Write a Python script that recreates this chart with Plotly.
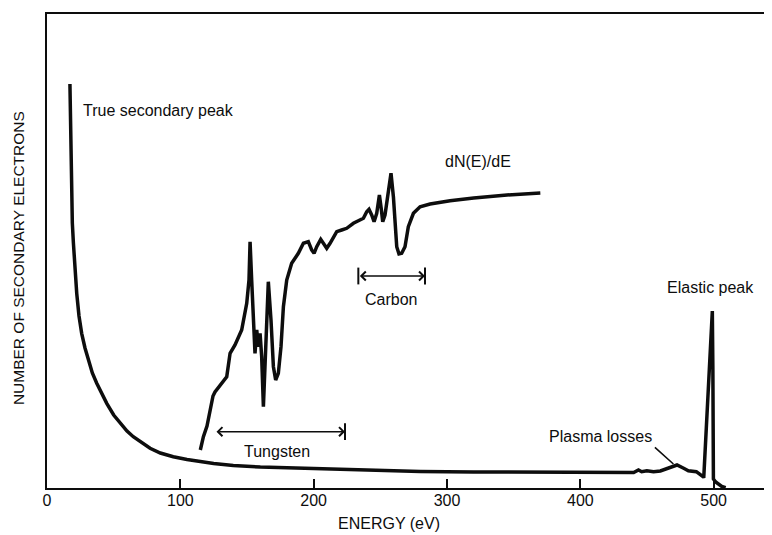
import plotly.graph_objects as go

# ---- Data ----
# Energy distribution N(E) of secondary electrons (arbitrary units)
ne_energy = [17.2, 17.6, 18.2, 19.0, 19.8, 21.0, 22.3, 24.0, 26.0, 28.5, 31.0, 34.0,
             37.3, 41.0, 44.8, 50.0, 54.8, 60.0, 64.7, 71.0, 77.3, 85.0, 94.7, 105.0,
             114.8, 125.0, 139.7, 160.0, 200.0, 240.0, 280.0, 320.0, 360.0, 400.0,
             436.0, 440.0, 443.6, 446.0, 449.9, 454.9, 460.0, 465.0, 469.0, 472.5,
             477.5, 481.0, 487.0, 490.0, 492.0, 492.6, 499.0, 499.4, 499.8, 501.5,
             503.6, 506.1, 509.0]
ne_counts = [404.0, 370.0, 295.0, 265.0, 245.0, 218.0, 194.7, 172.0, 154.7, 140.0, 128.0, 115.0,
             104.7, 94.0, 84.7, 73.0, 64.7, 57.0, 51.3, 45.0, 39.7, 35.0, 31.3, 28.5,
             26.3, 24.5, 22.5, 21.0, 19.5, 18.0, 16.5, 16.0, 15.6, 15.4,
             15.3, 15.5, 18.0, 16.3, 17.3, 16.3, 17.0, 19.7, 21.5, 23.0,
             19.7, 17.3, 16.3, 13.0, 11.3, 11.5, 177.0, 120.0, 9.0, 6.0,
             4.0, 1.5, 0.3]

# Derivative spectrum dN(E)/dE (arbitrary units, offset)
dn_energy = [115.0, 117.3, 120.0, 122.3, 124.5, 126.0, 129.8, 134.8, 137.3, 141.0, 146.0,
             149.8, 151.5, 152.3, 153.5, 155.5, 156.0, 157.3, 158.5, 159.8, 161.0, 162.3,
             164.0, 166.0, 168.0, 169.8, 171.5, 173.5, 175.5, 177.3, 179.8, 183.5, 188.5,
             192.3, 196.0, 198.5, 200.3, 202.3, 205.3, 207.3, 209.8, 212.3, 217.3, 221.0,
             224.8, 229.8, 234.8, 237.3, 239.8, 241.5, 243.5, 245.3, 247.3, 249.3, 250.8,
             251.8, 253.5, 255.3, 258.0, 259.8, 261.0, 262.3, 264.0, 266.0, 268.5, 271.0,
             274.8, 279.8, 287.3, 302.3, 320.0, 345.0, 370.0]
dn_values = [38.0, 51.3, 62.0, 78.0, 92.0, 96.0, 103.0, 111.3, 134.7, 143.0, 158.0,
             184.7, 208.0, 246.3, 208.0, 158.0, 134.7, 158.0, 141.3, 154.7, 131.3, 81.3,
             134.7, 206.3, 168.0, 121.3, 108.0, 114.7, 141.3, 181.3, 208.0, 224.7, 234.7,
             244.7, 246.3, 238.0, 234.7, 241.3, 248.7, 244.7, 239.7, 244.7, 256.3, 258.0,
             259.7, 264.7, 268.0, 269.7, 276.3, 278.7, 273.0, 266.3, 274.7, 293.0, 278.0,
             266.3, 273.0, 288.0, 314.7, 291.3, 264.7, 241.3, 234.0, 234.7, 241.3, 261.3,
             274.7, 281.3, 284.0, 287.3, 290.0, 293.0, 295.0]

x_ticks = [0, 100, 200, 300, 400, 500]
x_tick_labels = ["0", "100", "200", "300", "400", "500"]

# Energy ranges marked with arrows
tungsten_range = [126.0, 223.5]
tungsten_level = 56.3
carbon_range = [233.5, 283.5]
carbon_level = 212.0

# Text labels: (text, energy, level)
label_texts = ["True secondary peak", "dN(E)/dE", "Carbon", "Tungsten", "Elastic peak", "Plasma losses"]
label_x = [83.5, 323.5, 257.8, 172.3, 497.8, 414.8]
label_y = [378.0, 326.3, 189.0, 36.3, 201.0, 51.3]

# Leader line for plasma losses (from, to)
plasma_leader_x = [454.8, 469.8]
plasma_leader_y = [42.0, 24.0]

FONT = "Liberation Sans, Arial, sans-serif"
INK = "#0d0d0d"

fig = go.Figure()

fig.add_trace(go.Scatter(x=ne_energy, y=ne_counts, mode="lines",
                         line=dict(color=INK, width=3.5), hoverinfo="skip", showlegend=False))
fig.add_trace(go.Scatter(x=dn_energy, y=dn_values, mode="lines",
                         line=dict(color=INK, width=3.5), hoverinfo="skip", showlegend=False))

# end bars of the range arrows
bar_x = [tungsten_range[1], carbon_range[0], carbon_range[1]]
bar_y = [tungsten_level, carbon_level, carbon_level]
fig.add_trace(go.Scatter(x=bar_x, y=bar_y, mode="markers",
                         marker=dict(symbol="line-ns", size=12, line=dict(color=INK, width=2)),
                         hoverinfo="skip", showlegend=False))

annotations = []
for rng, lvl in [(tungsten_range, tungsten_level), (carbon_range, carbon_level)]:
    annotations.append(dict(x=rng[1], y=lvl, ax=rng[0], ay=lvl, xref="x", yref="y",
                            axref="x", ayref="y", text="", showarrow=True,
                            arrowside="end+start", arrowhead=4, arrowsize=1.1,
                            arrowwidth=1.6, arrowcolor=INK))

annotations.append(dict(x=plasma_leader_x[1], y=plasma_leader_y[1],
                        ax=plasma_leader_x[0], ay=plasma_leader_y[0],
                        xref="x", yref="y", axref="x", ayref="y", text="",
                        showarrow=True, arrowhead=0, arrowwidth=1.6, arrowcolor=INK))

for t, lx, ly in zip(label_texts, label_x, label_y):
    annotations.append(dict(x=lx, y=ly, xref="x", yref="y", text=t, showarrow=False,
                            font=dict(family=FONT, size=16, color=INK),
                            xanchor="center", yanchor="middle"))

# axis titles
annotations.append(dict(x=0.472, y=-0.074, xref="paper", yref="paper", text="ENERGY (eV)",
                        showarrow=False, xanchor="center", yanchor="middle",
                        font=dict(family=FONT, size=16, color=INK)))
annotations.append(dict(x=-0.040, y=0.485, xref="paper", yref="paper",
                        text="NUMBER OF SECONDARY ELECTRONS", textangle=-90,
                        showarrow=False, xanchor="center", yanchor="middle",
                        font=dict(family=FONT, size=15.5, color=INK)))

# The page body has an 8px default margin, so the figure is sized 16px
# smaller and margins adjusted to land the plot area where the
# reference has it (x 47..772, y 14..488).
fig.update_layout(
    width=764, height=527,
    margin=dict(l=39, r=0, t=6, b=47),
    paper_bgcolor="white", plot_bgcolor="white",
    annotations=annotations,
    xaxis=dict(range=[0, 543.75], tickvals=x_ticks, ticktext=x_tick_labels,
               ticks="inside", ticklen=9, tickwidth=2, tickcolor=INK,
               ticklabelstandoff=-3,
               showline=True, linewidth=2, linecolor=INK, mirror=True,
               showgrid=False, zeroline=False,
               tickfont=dict(family=FONT, size=16, color=INK)),
    yaxis=dict(range=[0, 474], showticklabels=False, ticks="",
               showline=True, linewidth=2, linecolor=INK,
               showgrid=False, zeroline=False),
)

fig.write_html("out.html")
